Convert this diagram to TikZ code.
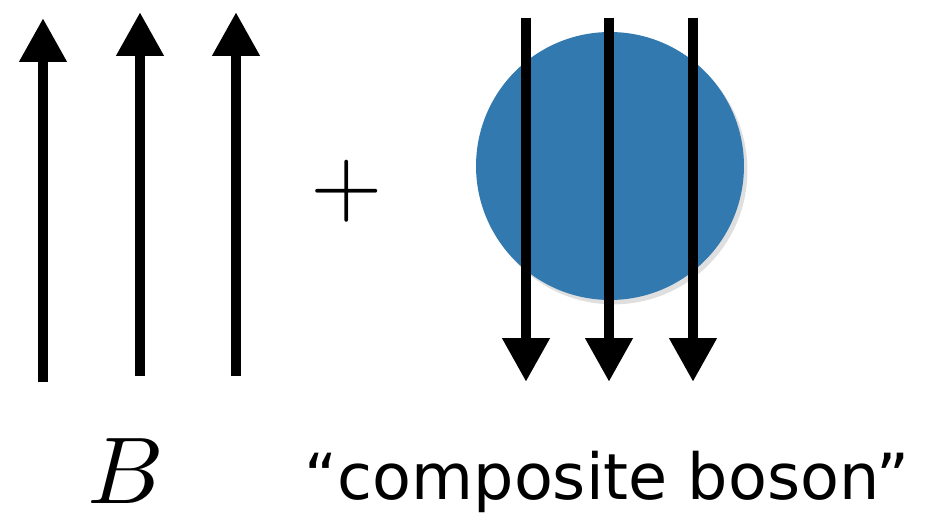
\documentclass[tikz,border=0pt]{standalone}
\usepackage{fontspec}
\usepackage{unicode-math}
\newfontfamily\capfont{DejaVu Sans}
\usetikzlibrary{arrows.meta,shadows}
\definecolor{blobblue}{RGB}{50,121,175}
\tikzset{
  spin/.style={line width=6.2pt,-{Triangle[width=25.5pt,length=25pt]}},
}
\begin{document}
\begin{tikzpicture}[x=0.02cm,y=-0.02cm]

\useasboundingbox (0,0) rectangle (941,513);

% the blob behind the down spins
\node[circle,fill=blobblue,minimum size=5.36cm,inner sep=0pt,
  drop shadow={opacity=0.25,shadow xshift=2pt,shadow yshift=-2.5pt}] (blob) at (610,166) {};

\coordinate (u1) at (43,382);
\coordinate (u1t) at (43,18);
\coordinate (u2) at (140,376);
\coordinate (u2t) at (140,12);
\coordinate (u3) at (236,376);
\coordinate (u3t) at (236,12);

\draw[spin] (u1) -- (u1t);
\draw[spin] (u2) -- (u2t);
\draw[spin] (u3) -- (u3t);

\coordinate (d1) at (526,18);
\coordinate (d1t) at (526,382);
\coordinate (d2) at (609,18);
\coordinate (d2t) at (609,382);
\coordinate (d3) at (693,18);
\coordinate (d3t) at (693,382);

\draw[spin] (d1) -- (d1t);
\draw[spin] (d2) -- (d2t);
\draw[spin] (d3) -- (d3t);

\node[inner sep=0pt] (plus) at (347,191) {\fontsize{53}{56}\selectfont $+$};

\node[anchor=base,inner sep=0pt] (field) at (125,504) {\fontsize{54}{60}\selectfont $B$};
\node[anchor=base,inner sep=0pt] (boson) at (607,500) {\capfont\fontsize{36.2}{40}\selectfont “composite boson”};

\end{tikzpicture}
\end{document}
